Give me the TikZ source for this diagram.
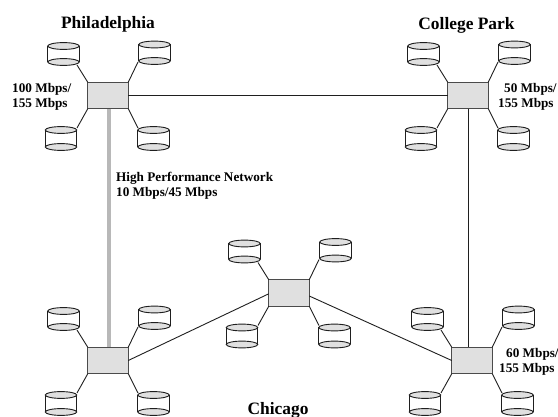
\documentclass[tikz,border=0pt]{standalone}
\usepackage{fontspec}
\setmainfont{Liberation Serif}
\definecolor{swfill}{gray}{0.88}
\definecolor{hpline}{gray}{0.72}
\definecolor{ink}{gray}{0.12}
\tikzset{
  x=1pt,y=-1pt,
  switchbox/.style={draw=ink!80!white,line width=1.1pt,fill=swfill,minimum width=40.5pt,minimum height=26.5pt,inner sep=0pt,outer sep=0pt},
  link/.style={draw=ink,line width=0.9pt},
  hplink/.style={draw=hpline,line width=4.6pt},
  cityname/.style={font=\fontsize{17.4}{20}\selectfont\bfseries,inner sep=0pt,anchor=base},
  ratelabel/.style={font=\fontsize{13.2}{15}\selectfont\bfseries,inner sep=0pt,anchor=base west},
  diskanchor/.style={inner sep=0pt,minimum size=0pt},
}
% name, centre x, top-ellipse y, bottom-ellipse y
\newcommand{\diskshape}[4]{%
  \fill[white] (#2-15.7,#3) rectangle (#2+15.7,#4);
  \draw[ink,line width=0.9pt] (#2-15.7,#3) -- (#2-15.7,#4) (#2+15.7,#3) -- (#2+15.7,#4);
  \draw[ink,line width=0.9pt,fill=swfill] (#2,#4) ellipse [x radius=15.7,y radius=3.4];
  \draw[ink,line width=0.9pt,fill=swfill] (#2,#3) ellipse [x radius=15.7,y radius=3.4];
  \node[diskanchor] (#1) at (#2,#4) {};
}
% prefix, offset x, offset y
\newcommand{\station}[3]{%
  \node[switchbox] (#1) at (108+#2,95.5+#3) {};
  \diskshape{#1tl}{63.5+#2}{46+#3}{62+#3}
  \diskshape{#1tr}{154.5+#2}{44.5+#3}{61+#3}
  \diskshape{#1bl}{61+#2}{130+#3}{147+#3}
  \diskshape{#1br}{153.5+#2}{130+#3}{147+#3}
  \coordinate (#1tlc) at (77+#2,65+#3);
  \coordinate (#1trc) at (138+#2,62+#3);
  \coordinate (#1blc) at (77+#2,128+#3);
  \coordinate (#1brc) at (138+#2,128+#3);
  \draw[link] (#1tlc) -- (#1.north west);
  \draw[link] (#1trc) -- (#1.north east);
  \draw[link] (#1blc) -- (#1.south west);
  \draw[link] (#1brc) -- (#1.south east);
}
\begin{document}
\begin{tikzpicture}
\useasboundingbox (0,0) rectangle (558,417);
\fill[white] (0,0) rectangle (558,417);
\station{ph}{0}{0}
\station{cp}{360}{0}
\station{ll}{0}{265}
\station{lr}{364}{265}
\station{ch}{181}{197.5}
\draw[hplink] ([xshift=1pt]ph.south) -- ([xshift=1pt]ll.north);
\draw[link] (ph.east) -- (cp.west);
\draw[link] (cp.south) -- (lr.north -| cp.south);
\draw[link] (ll.east) -- ([yshift=-0.8pt]ch.west);
\draw[link] ([yshift=-3pt]ch.east) -- (lr.west);
\node[cityname] (tph) at (108,29) {Philadelphia};
\node[cityname] (tcp) at (466.5,29.5) {College Park};
\node[cityname] (tch) at (278,415) {Chicago};
\node[ratelabel] (r1a) at (12,92.5) {100 Mbps/};
\node[ratelabel] (r1b) at (12,107.5) {155 Mbps};
\node[ratelabel] (hp1) at (116,182) {High Performance Network};
\node[ratelabel] (hp2) at (116,197) {10 Mbps/45 Mbps};
\node[ratelabel] (r2a) at (504,92.5) {50 Mbps/};
\node[ratelabel] (r2b) at (498,107.5) {155 Mbps};
\node[ratelabel] (r3a) at (506,357.7) {60 Mbps/};
\node[ratelabel] (r3b) at (499,372.7) {155 Mbps};
\end{tikzpicture}
\end{document}
